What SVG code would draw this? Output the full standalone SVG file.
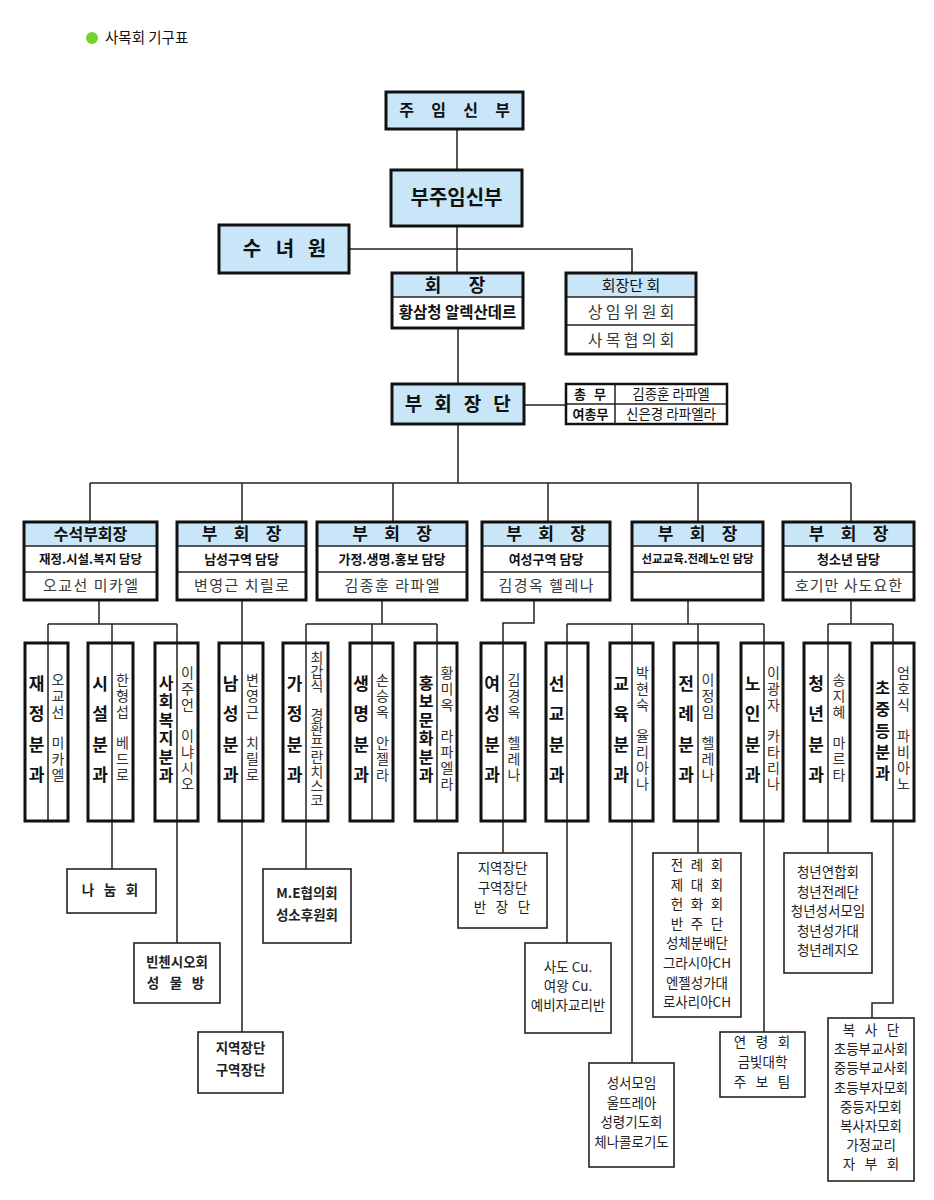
<svg xmlns="http://www.w3.org/2000/svg" width="934" height="1200" viewBox="0 0 934 1200">
<style>
text{font-family:"Noto Sans CJK KR","Noto Sans",sans-serif;fill:#111}
.bg{fill:#fff}
.blue{fill:#c9e6f8}
.thick{fill:none;stroke:#111;stroke-width:3}
.thin{fill:none;stroke:#111;stroke-width:1.6}
.sbox{fill:#fff;stroke:#222;stroke-width:1.6}
.dv{stroke:#222;stroke-width:1.5}
.ln{fill:none;stroke:#222;stroke-width:1.5}
.b{font-weight:bold}
.m{text-anchor:middle}
.g{fill:#3a3a3a}
.vl{font-weight:bold;font-size:17px;text-anchor:middle}
.vl6{font-weight:bold;font-size:16px;text-anchor:middle}
.vr{font-size:14px;text-anchor:middle;fill:#333}
.bt{font-size:13.5px;text-anchor:middle;fill:#222}
</style>
<rect width="934" height="1200" fill="#fff"/>
<g id="title">
<circle cx="92" cy="38" r="6" fill="#77d02c"/>
<text x="105" y="43" font-size="14.5" fill="#333">사목회 기구표</text>
</g>

<g id="connectors" class="ln">
<path d="M457 129V170M457 226V273M349 249H632V273M458 328V384M524 405H566M458 424V483M90 483H851M90 483V522M242 483V522M393 483V522M548 483V522M698 483V522M851 483V522"/>
<path d="M99 600V624M48 624H177M48 624V821M112 624V869M177 624V943M242 600V1032"/>
<path d="M382 600V624M306 624H437M306 624V869M372 624V821M437 624V821"/>
<path d="M534 600V623H503V853"/>
<path d="M688 600V624M567 624H764M567 624V943M632 624V1063M698 624V853M764 624V1032"/>
<path d="M851 600V624M828 624H893M828 624V853M893 624V1003H872V1018"/>
</g>

<g id="jumim">
<rect class="blue" x="386" y="92" width="137" height="37"/>
<rect class="thick" x="386" y="92" width="137" height="37"/>
<text class="b m" font-size="16" x="406.5 422.5 438.5 454.5 470.5 486.5 502.5" y="116">주 임 신 부</text>
</g>
<g id="bujumim">
<rect class="blue" x="391" y="170" width="131" height="56"/>
<rect class="thick" x="391" y="170" width="131" height="56"/>
<text class="b m" font-size="20" x="456.5" y="205">부주임신부</text>
</g>
<g id="sunyeowon">
<rect class="blue" x="219" y="225" width="130" height="48"/>
<rect class="thick" x="219" y="225" width="130" height="48"/>
<text class="b m" font-size="20" x="252 268.5 285 301 317" y="256">수 녀 원</text>
</g>
<g id="hoejang">
<rect class="bg" x="392" y="273" width="131" height="55"/>
<rect class="blue" x="392" y="273" width="131" height="24"/>
<line class="dv" x1="392" y1="297" x2="523" y2="297"/>
<rect class="thick" x="392" y="273" width="131" height="55"/>
<text class="b m" font-size="18" x="433 455 477" y="292">회 장</text>
<text class="b m" font-size="15.5" x="457.5" y="318">황삼청 알렉산데르</text>
</g>
<g id="hoejangdanhoe">
<rect class="bg" x="566" y="273" width="130" height="81"/>
<rect class="blue" x="566" y="273" width="130" height="24"/>
<line class="dv" x1="566" y1="297" x2="696" y2="297"/>
<line class="dv" x1="566" y1="325" x2="696" y2="325"/>
<rect class="thick" x="566" y="273" width="130" height="81"/>
<text class="m" font-size="15" x="631" y="291">회장단 회</text>
<text class="m g" font-size="16" x="595 613 631 649 667" y="318">상임위원회</text>
<text class="m g" font-size="16" x="595 613 631 649 667" y="346">사목협의회</text>
</g>
<g id="buhoejangdan">
<rect class="blue" x="392" y="384" width="132" height="40"/>
<rect class="thick" x="392" y="384" width="132" height="40"/>
<text class="b m" font-size="19" x="413.5 428 443 457.5 472.5 487 502" y="411">부 회 장 단</text>
</g>
<g id="chongmu">
<rect class="bg" x="566" y="384" width="161" height="40"/>
<line class="dv" x1="566" y1="404" x2="727" y2="404"/>
<line class="dv" x1="615" y1="384" x2="615" y2="424"/>
<rect class="thick" x="566" y="384" width="161" height="40" style="stroke-width:2.5"/>
<text class="b m" font-size="13" x="580 590 600" y="399">총 무</text>
<text class="m" font-size="13.5" x="671" y="399">김종훈 라파엘</text>
<text class="b m" font-size="13" x="590.5" y="419">여총무</text>
<text class="m" font-size="13.5" x="671" y="419">신은경 라파엘라</text>
</g>

<g id="vp1">
<rect class="bg" x="24" y="522" width="133" height="78"/>
<rect class="blue" x="24" y="522" width="133" height="24"/>
<line class="dv" x1="24" y1="546" x2="157" y2="546"/><line class="dv" x1="24" y1="572" x2="157" y2="572"/>
<rect class="thick" x="24" y="522" width="133" height="78"/>
<text class="b m" font-size="16" x="90.5" y="540">수석부회장</text>
<text class="b m" font-size="12.5" x="90.5" y="564">재정.시설.복지 담당</text>
<text class="m g" font-size="15" letter-spacing="1.5" x="91.3" y="591">오교선 미카엘</text>
</g>
<g id="vp2">
<rect class="bg" x="177" y="522" width="129" height="78"/>
<rect class="blue" x="177" y="522" width="129" height="24"/>
<line class="dv" x1="177" y1="546" x2="306" y2="546"/><line class="dv" x1="177" y1="572" x2="306" y2="572"/>
<rect class="thick" x="177" y="522" width="129" height="78"/>
<text class="b m" font-size="17" x="209.5 225.5 241.5 257.5 273.5" y="540">부 회 장</text>
<text class="b m" font-size="13" x="241.5" y="564">남성구역 담당</text>
<text class="m g" font-size="15" letter-spacing="1.5" x="242.3" y="591">변영근 치릴로</text>
</g>
<g id="vp3">
<rect class="bg" x="317" y="522" width="150" height="78"/>
<rect class="blue" x="317" y="522" width="150" height="24"/>
<line class="dv" x1="317" y1="546" x2="467" y2="546"/><line class="dv" x1="317" y1="572" x2="467" y2="572"/>
<rect class="thick" x="317" y="522" width="150" height="78"/>
<text class="b m" font-size="17" x="360 376 392 408 424" y="540">부 회 장</text>
<text class="b m" font-size="13" x="392" y="564">가정.생명.홍보 담당</text>
<text class="m g" font-size="15" letter-spacing="1.5" x="392.8" y="591">김종훈 라파엘</text>
</g>
<g id="vp4">
<rect class="bg" x="482" y="522" width="128" height="78"/>
<rect class="blue" x="482" y="522" width="128" height="24"/>
<line class="dv" x1="482" y1="546" x2="610" y2="546"/><line class="dv" x1="482" y1="572" x2="610" y2="572"/>
<rect class="thick" x="482" y="522" width="128" height="78"/>
<text class="b m" font-size="17" x="514 530 546 562 578" y="540">부 회 장</text>
<text class="b m" font-size="13" x="546" y="564">여성구역 담당</text>
<text class="m g" font-size="15" letter-spacing="1.5" x="546.8" y="591">김경옥 헬레나</text>
</g>
<g id="vp5">
<rect class="bg" x="632" y="522" width="131" height="78"/>
<rect class="blue" x="632" y="522" width="131" height="24"/>
<line class="dv" x1="632" y1="546" x2="763" y2="546"/><line class="dv" x1="632" y1="572" x2="763" y2="572"/>
<rect class="thick" x="632" y="522" width="131" height="78"/>
<text class="b m" font-size="17" x="665.5 681.5 697.5 713.5 729.5" y="540">부 회 장</text>
<text class="b m" font-size="11.5" x="697.5" y="563">선교교육.전례노인 담당</text>
</g>
<g id="vp6">
<rect class="bg" x="783" y="522" width="131" height="78"/>
<rect class="blue" x="783" y="522" width="131" height="24"/>
<line class="dv" x1="783" y1="546" x2="914" y2="546"/><line class="dv" x1="783" y1="572" x2="914" y2="572"/>
<rect class="thick" x="783" y="522" width="131" height="78"/>
<text class="b m" font-size="17" x="816.5 832.5 848.5 864.5 880.5" y="540">부 회 장</text>
<text class="b m" font-size="13" x="848.5" y="564">청소년 담당</text>
<text class="m g" font-size="15" letter-spacing="1" x="849" y="591">호기만 사도요한</text>
</g>

<g id="c-jaejeong">
<rect class="thick" x="25" y="643" width="43" height="178"/>
<text class="vl" x="36.5 36.5 36.5 36.5" y="690 720 751 781">재정분과</text>
<text class="vr" x="58 58 58 58 58 58 58" y="685 700.8 716.6 732.4 748.2 764 779.8">오교선 미카엘</text>
</g>
<g id="c-siseol">
<rect class="thick" x="88" y="643" width="45" height="178"/>
<text class="vl" x="100 100 100 100" y="690 720 751 781">시설분과</text>
<text class="vr" x="122.5 122.5 122.5 122.5 122.5 122.5 122.5" y="685 700.8 716.6 732.4 748.2 764 779.8">한형섭 베드로</text>
</g>
<g id="c-bokji">
<rect class="thick" x="155" y="643" width="43" height="178"/>
<text class="vl6" x="166 166 166 166 166 166" y="689 707.4 725.8 744.2 762.6 781">사회복지분과</text>
<text class="vr" x="187.5 187.5 187.5 187.5 187.5 187.5 187.5 187.5" y="678 693.8 709.6 725.4 741.2 757 772.8 788.6">이주언 이냐시오</text>
</g>
<g id="c-namseong">
<rect class="thick" x="219" y="643" width="44" height="178"/>
<text class="vl" x="230.5 230.5 230.5 230.5" y="690 720 751 781">남성분과</text>
<text class="vr" x="252.5 252.5 252.5 252.5 252.5 252.5 252.5" y="685 700.8 716.6 732.4 748.2 764 779.8">변영근 치릴로</text>
</g>
<g id="c-gajeong">
<rect class="thick" x="283" y="643" width="45" height="178"/>
<text class="vl" x="294.5 294.5 294.5 294.5" y="690 720 751 781">가정분과</text>
<text class="vr" font-size="13.5" x="317 317 317 317 317 317 317 317 317 317 317" y="663 677.2 691.4 705.6 719.8 734 748.2 762.4 776.6 790.8 805">최갑식 경환프란치스코</text>
</g>
<g id="c-saengmyeong">
<rect class="thick" x="350" y="643" width="43" height="178"/>
<text class="vl" x="361 361 361 361" y="690 720 751 781">생명분과</text>
<text class="vr" x="382.5 382.5 382.5 382.5 382.5 382.5 382.5" y="685 700.8 716.6 732.4 748.2 764 779.8">손승옥 안젤라</text>
</g>
<g id="c-hongbo">
<rect class="thick" x="415" y="643" width="42" height="178"/>
<text class="vl6" x="426 426 426 426 426 426" y="689 707.4 725.8 744.2 762.6 781">홍보문화분과</text>
<text class="vr" x="447 447 447 447 447 447 447 447" y="678 693.8 709.6 725.4 741.2 757 772.8 788.6">황미옥 라파엘라</text>
</g>
<g id="c-yeoseong">
<rect class="thick" x="481" y="643" width="44" height="178"/>
<text class="vl" x="492 492 492 492" y="690 720 751 781">여성분과</text>
<text class="vr" x="514 514 514 514 514 514 514" y="685 700.8 716.6 732.4 748.2 764 779.8">김경옥 헬레나</text>
</g>
<g id="c-seongyo">
<rect class="thick" x="546" y="643" width="42" height="178"/>
<text class="vl" x="556.5 556.5 556.5 556.5" y="690 720 751 781">선교분과</text>
</g>
<g id="c-gyoyuk">
<rect class="thick" x="610" y="643" width="43" height="178"/>
<text class="vl" x="621 621 621 621" y="690 720 751 781">교육분과</text>
<text class="vr" x="642.5 642.5 642.5 642.5 642.5 642.5 642.5 642.5" y="678 693.8 709.6 725.4 741.2 757 772.8 788.6">박현숙 율리아나</text>
</g>
<g id="c-jeonrye">
<rect class="thick" x="674" y="643" width="44" height="178"/>
<text class="vl" x="686 686 686 686" y="690 720 751 781">전례분과</text>
<text class="vr" x="708 708 708 708 708 708 708" y="685 700.8 716.6 732.4 748.2 764 779.8">이정임 헬레나</text>
</g>
<g id="c-noin">
<rect class="thick" x="741" y="643" width="42" height="178"/>
<text class="vl" x="752.5 752.5 752.5 752.5" y="690 720 751 781">노인분과</text>
<text class="vr" x="773.5 773.5 773.5 773.5 773.5 773.5 773.5 773.5" y="678 693.8 709.6 725.4 741.2 757 772.8 788.6">이광자 카타리나</text>
</g>
<g id="c-cheongnyeon">
<rect class="thick" x="804" y="643" width="46" height="178"/>
<text class="vl" x="816 816 816 816" y="690 720 751 781">청년분과</text>
<text class="vr" x="839 839 839 839 839 839 839" y="685 700.8 716.6 732.4 748.2 764 779.8">송지혜 마르타</text>
</g>
<g id="c-chojungdeung">
<rect class="thick" x="872" y="643" width="42" height="178"/>
<text class="vl6" x="882.5 882.5 882.5 882.5 882.5" y="694 715 736.5 757.5 779">초중등분과</text>
<text class="vr" x="903.5 903.5 903.5 903.5 903.5 903.5 903.5 903.5" y="678 693.8 709.6 725.4 741.2 757 772.8 788.6">엄호식 파비아노</text>
</g>

<g id="s-nanum">
<rect class="sbox" x="67" y="869" width="89" height="44"/>
<text class="bt b" x="88 99 110 121 132" y="895">나 눔 회</text>
</g>
<g id="s-vincent">
<rect class="sbox" x="134" y="943" width="86" height="60"/>
<text class="bt b" x="177" y="967">빈첸시오회</text>
<text class="bt b" x="153 165 176 187 198" y="988">성 물 방</text>
</g>
<g id="s-jiyeok1">
<rect class="sbox" x="198" y="1032" width="85" height="61"/>
<text class="bt b" x="240.5" y="1053">지역장단</text>
<text class="bt b" x="240.5" y="1075">구역장단</text>
</g>
<g id="s-me">
<rect class="sbox" x="263" y="869" width="88" height="74"/>
<text class="bt b" x="307" y="898">M.E협의회</text>
<text class="bt b" x="307" y="920">성소후원회</text>
</g>
<g id="s-jiyeok2">
<rect class="sbox" x="458" y="853" width="89" height="75"/>
<text class="bt" x="502.5" y="873">지역장단</text>
<text class="bt" x="502.5" y="892.5">구역장단</text>
<text class="bt" x="480 491 502 513 524" y="912">반 장 단</text>
</g>
<g id="s-sado">
<rect class="sbox" x="525" y="943" width="86" height="90"/>
<text class="bt" x="568" y="972">사도 Cu.</text>
<text class="bt" x="568" y="991">여왕 Cu.</text>
<text class="bt" x="568" y="1010">예비자교리반</text>
</g>
<g id="s-seongseo">
<rect class="sbox" x="589" y="1063" width="85" height="104"/>
<text class="bt" x="631.5" y="1088">성서모임</text>
<text class="bt" x="631.5" y="1108">울뜨레아</text>
<text class="bt" x="631.5" y="1127">성령기도회</text>
<text class="bt" x="631.5" y="1147">체나콜로기도</text>
</g>
<g id="s-jeonryehoe">
<rect class="sbox" x="653" y="853" width="88" height="164"/>
<text class="bt" x="677 687 697 707 717" y="870">전 례 회</text>
<text class="bt" x="677 687 697 707 717" y="889.6">제 대 회</text>
<text class="bt" x="677 687 697 707 717" y="909.2">헌 화 회</text>
<text class="bt" x="677 687 697 707 717" y="928.8">반 주 단</text>
<text class="bt" x="697" y="948.4">성체분배단</text>
<text class="bt" x="697" y="968">그라시아CH</text>
<text class="bt" x="697" y="987.6">엔젤성가대</text>
<text class="bt" x="697" y="1007.2">로사리아CH</text>
</g>
<g id="s-yeonryeong">
<rect class="sbox" x="720" y="1032" width="85" height="65"/>
<text class="bt" x="740 751 762 773 784" y="1047">연 령 회</text>
<text class="bt" x="762.5" y="1067">금빛대학</text>
<text class="bt" x="740 751 762 773 784" y="1087">주 보 팀</text>
</g>
<g id="s-cheongnyeon">
<rect class="sbox" x="784" y="853" width="88" height="120"/>
<text class="bt" x="828" y="877">청년연합회</text>
<text class="bt" x="828" y="896.5">청년전례단</text>
<text class="bt" x="828" y="916">청년성서모임</text>
<text class="bt" x="828" y="935.5">청년성가대</text>
<text class="bt" x="828" y="955">청년레지오</text>
</g>
<g id="s-boksa">
<rect class="sbox" x="828" y="1018" width="86" height="163"/>
<text class="bt" x="849 860 871 882 893" y="1035">복 사 단</text>
<text class="bt" x="871" y="1054.2">초등부교사회</text>
<text class="bt" x="871" y="1073.4">중등부교사회</text>
<text class="bt" x="871" y="1092.6">초등부자모회</text>
<text class="bt" x="871" y="1111.8">중등자모회</text>
<text class="bt" x="871" y="1131">복사자모회</text>
<text class="bt" x="871" y="1150.2">가정교리</text>
<text class="bt" x="849 860 871 882 893" y="1169.4">자 부 회</text>
</g>
</svg>
